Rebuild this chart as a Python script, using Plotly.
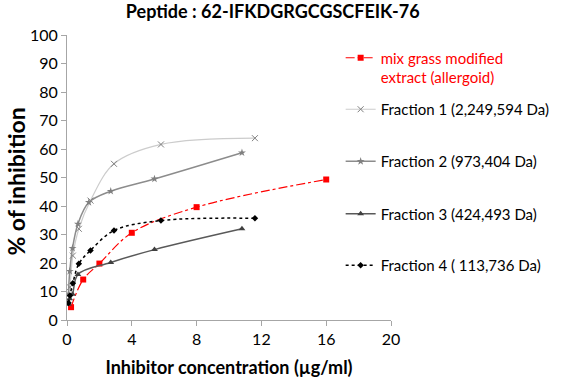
import plotly.graph_objects as go

# ---- data ----
mix_x = [0.25, 1, 2, 4, 8, 16]
mix_y = [4.5, 14.2, 19.8, 30.6, 39.6, 49.3]

frac1_x = [0.09, 0.18, 0.36, 0.73, 1.45, 2.9, 5.8, 11.6]
frac1_y = [7, 11.5, 22.6, 32, 41.9, 54.8, 61.6, 63.8]

frac2_x = [0.085, 0.17, 0.34, 0.675, 1.35, 2.7, 5.4, 10.8]
frac2_y = [9, 17.1, 25.2, 33.7, 41.3, 45.2, 49.5, 58.7]

frac3_x = [0.085, 0.17, 0.34, 0.675, 2.7, 5.4, 10.8]
frac3_y = [5.5, 7.5, 9, 16, 20.2, 24.7, 32]

frac4_x = [0.09, 0.18, 0.36, 0.73, 1.45, 2.9, 5.8, 11.6]
frac4_y = [6, 8.6, 12.9, 19.7, 24.4, 31.4, 34.9, 35.7]

names = ["mix grass modified<br>extract (allergoid)",
         "Fraction 1 (2,249,594 Da)",
         "Fraction 2 (973,404 Da)",
         "Fraction 3 (424,493 Da)",
         "Fraction 4 ( 113,736 Da)"]

x_ticks = [0, 4, 8, 12, 16, 20]
y_ticks = list(range(0, 101, 10))

FONT = "Lato, 'Open Sans', sans-serif"

fig = go.Figure()
fig.add_trace(go.Scatter(x=mix_x, y=mix_y, name=names[0], mode="lines+markers",
                         line=dict(color="#ff0000", width=1.2, dash="dashdot", shape="spline"),
                         marker=dict(symbol="square", size=6, color="#ff0000"),
                         legend="legend", showlegend=True))
fig.add_trace(go.Scatter(x=frac1_x, y=frac1_y, name=names[1], mode="lines+markers",
                         line=dict(color="#cccccc", width=1.2, shape="spline"),
                         marker=dict(symbol="x-thin-open", size=6, color="#808080",
                                     line=dict(color="#808080", width=1)),
                         legend="legend2", showlegend=True))
fig.add_trace(go.Scatter(x=frac2_x, y=frac2_y, name=names[2], mode="lines+markers",
                         line=dict(color="#8c8c8c", width=1.5, shape="spline"),
                         marker=dict(symbol="star", size=6, color="#808080"),
                         legend="legend3", showlegend=True))
fig.add_trace(go.Scatter(x=frac3_x, y=frac3_y, name=names[3], mode="lines+markers",
                         line=dict(color="#595959", width=1.5, shape="spline"),
                         marker=dict(symbol="triangle-up", size=6, color="#404040"),
                         legend="legend4", showlegend=True))
fig.add_trace(go.Scatter(x=frac4_x, y=frac4_y, name=names[4], mode="lines+markers",
                         line=dict(color="#000000", width=1.5, dash="3px,3px", shape="spline"),
                         marker=dict(symbol="diamond", size=5, color="#000000"),
                         legend="legend5", showlegend=True))

def leg(y, color="#000000", valign="middle"):
    return dict(x=0.8446, xanchor="left", y=y, yanchor="middle",
                bgcolor="rgba(0,0,0,0)", borderwidth=0, valign=valign, itemwidth=30,
                font=dict(family=FONT, size=15, color=color))

fig.update_layout(
    width=567, height=384,
    showlegend=True,
    margin=dict(l=67, r=159, t=35, b=64),
    paper_bgcolor="white", plot_bgcolor="white",
    font=dict(family=FONT, size=16, color="#000000"),
    title=dict(text="<b>Peptide : 62-IFKDGRGCGSCFEIK-76</b>", xref="container", yref="container",
               x=0.481, xanchor="center", y=0.969, yanchor="middle",
               font=dict(family=FONT, size=18)),
    xaxis=dict(range=[0, 20], tickvals=x_ticks, ticks="outside", ticklen=5,
               tickcolor="#a6a6a6", showline=True, linecolor="#a6a6a6", linewidth=1,
               showgrid=False, zeroline=False, tickfont=dict(size=16), automargin=False,
               title=dict(text="<b>Inhibitor concentration (µg/ml)</b>", standoff=14,
                          font=dict(size=18))),
    yaxis=dict(range=[0, 100], tickvals=y_ticks, ticks="outside", ticklen=5,
               tickcolor="#a6a6a6", showline=True, linecolor="#a6a6a6", linewidth=1,
               showgrid=False, zeroline=False, tickfont=dict(size=16), automargin=False),
    annotations=[dict(text="<b>% of inhibition</b>", textangle=-90, showarrow=False,
                      xref="paper", yref="paper", x=-0.158, y=0.485,
                      xanchor="center", yanchor="middle",
                      font=dict(family=FONT, size=23, color="#000000"))],
    legend=leg(0.886, "#ff0000", "top"),
    legend2=leg(0.7386),
    legend3=leg(0.556),
    legend4=leg(0.372),
    legend5=leg(0.191),
)

fig.write_html("out.html", config={"displayModeBar": False},
               post_script="document.body.style.margin='0';document.body.style.overflow='hidden';")
